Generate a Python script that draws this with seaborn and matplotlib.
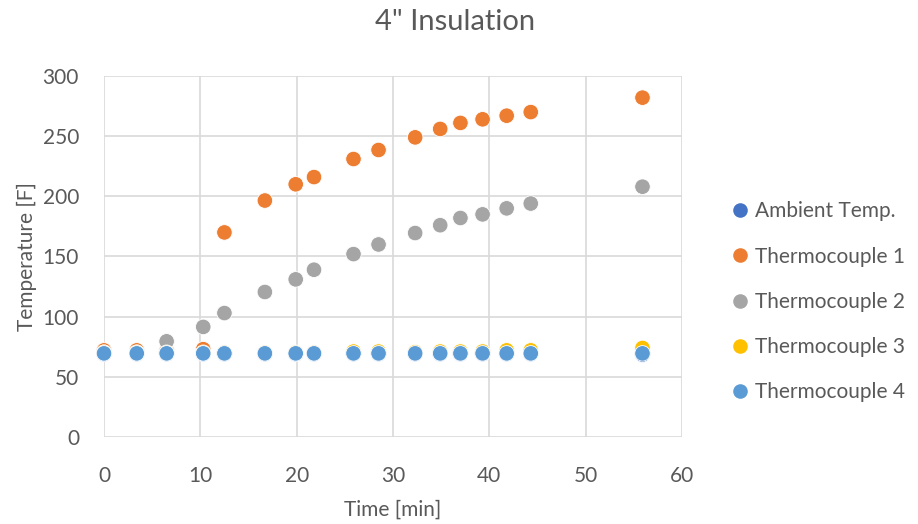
import numpy as np
import matplotlib
matplotlib.use("Agg")
import matplotlib.pyplot as plt
import seaborn as sns
import pandas as pd

# readings taken off the chart
time_min = [0, 3.4, 6.5, 10.3, 12.5, 16.7, 19.9, 21.8, 25.9, 28.5, 32.3, 34.9, 37.0, 39.3, 41.8, 44.3, 55.9]
ambient = [69, 69, 69, 69, 69, 69, 69, 69, 69, 69, 69, 69, 69, 69, 69, 69, 68.5]
tc1 = [72, 72, 72, 73, 170, 196.5, 210, 216, 231, 238.5, 249, 256, 261, 264, 267, 270, 282]
tc2 = [70, 70, 79.5, 91.5, 103, 120.5, 131, 139, 152, 160, 169.5, 176, 182, 185, 190, 194, 208]
tc3 = [70, 70, 70, 70, 70, 70, 70, 70, 71, 71, 70.5, 71, 71, 71, 72, 72, 74]
tc4 = [69.5, 69.5, 69.5, 69.5, 69.5, 69.5, 69.5, 69.5, 69.5, 69.5, 69.5, 69.5, 69.5, 69.5, 69.5, 69.5, 69.5]

series_names = ["Ambient Temp.", "Thermocouple 1", "Thermocouple 2", "Thermocouple 3", "Thermocouple 4"]
series_colors = ["#4472C4", "#ED7D31", "#A5A5A5", "#FFC000", "#5B9BD5"]

wide = pd.DataFrame({"Time": time_min,
                     series_names[0]: ambient,
                     series_names[1]: tc1,
                     series_names[2]: tc2,
                     series_names[3]: tc3,
                     series_names[4]: tc4})
df = wide.melt(id_vars="Time", var_name="Series", value_name="Temp")

sns.set_theme(style="whitegrid")
plt.rcParams['font.family'] = ['Lato', 'DejaVu Sans']
txt = "#595959"

fig = plt.figure(figsize=(9.18, 5.24), dpi=100)
ax = fig.add_axes([0.1133, 0.166, 0.6296, 0.689])

sns.scatterplot(data=df, x="Time", y="Temp", hue="Series", hue_order=series_names,
                palette=dict(zip(series_names, series_colors)), s=125,
                edgecolor="white", linewidth=0.6, ax=ax)

ax.set_xlim(0, 60)
ax.set_ylim(0, 300)
ax.set_xticks(np.arange(0, 61, 10))
ax.set_yticks(np.arange(0, 301, 50))
ax.grid(True, color="#d9d9d9", linewidth=1.2)
for sp in ax.spines.values():
    sp.set_visible(False)
ax.tick_params(length=0, labelsize=15, labelcolor=txt)
ax.tick_params(axis="x", pad=21)
ax.tick_params(axis="y", pad=18)
ax.set_xlabel("Time [min]", fontsize=15, color=txt, labelpad=10)
ax.set_ylabel("Temperature [F]", fontsize=15, color=txt, labelpad=4)
for c in ax.collections:
    c.set_clip_on(False)

fig.text(0.496, 0.958, '4" Insulation', ha="center", va="center", fontsize=21, color=txt)

handles, labels = ax.get_legend_handles_labels()
leg = ax.legend(handles, labels, loc="center left", bbox_to_anchor=(0.798, 0.424),
                bbox_transform=fig.transFigure, frameon=False, fontsize=15,
                handlelength=0.7, handletextpad=0.37, labelspacing=1.21, borderpad=0,
                borderaxespad=0)
for h in leg.legend_handles:
    h.set_markersize(10.5)
    h.set_markeredgewidth(0)
for t in leg.get_texts():
    t.set_color(txt)

fig.savefig("out.png", dpi=100)
